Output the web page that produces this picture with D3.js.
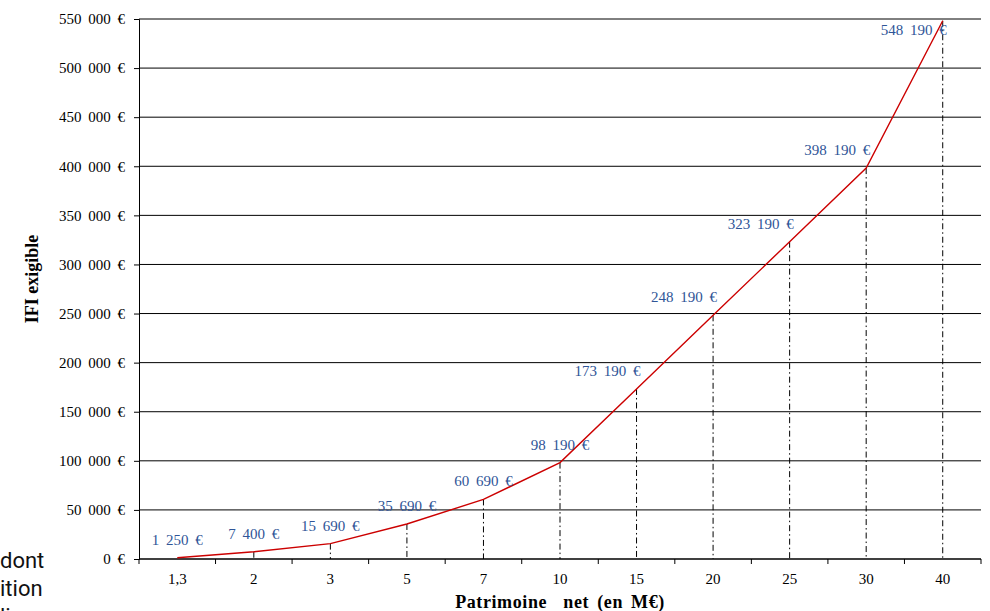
<!DOCTYPE html>
<html>
<head>
<meta charset="utf-8">
<script src="https://cdn.jsdelivr.net/npm/d3@7"></script>
<style>
  body { margin: 0; background: #fff; }
  svg { display: block; }
  .tick text { font-family: "Liberation Serif", "Times New Roman", serif; font-size: 15px; fill: #000; word-spacing: 3px; }
</style>
</head>
<body>
<svg id="chart" width="990" height="611"></svg>
<script>
// patrimoine net (M€) and IFI exigible (€)
var categories = ["1,3", "2", "3", "5", "7", "10", "15", "20", "25", "30", "40"];
var ifiValues = [1250, 7400, 15690, 35690, 60690, 98190, 173190, 248190, 323190, 398190, 548190];
var yTicks = [0, 50000, 100000, 150000, 200000, 250000, 300000, 350000, 400000, 450000, 500000, 550000];

var svg = d3.select("#chart");
var margin = {left: 139, right: 9, top: 19, bottom: 52};
var W = 990, H = 611;
var x0 = margin.left, x1 = W - margin.right, y0 = H - margin.bottom, y1 = margin.top;

var x = d3.scaleBand().domain(categories).range([x0, x1]).padding(0);
var y = d3.scaleLinear().domain([0, 550000]).range([y0, y1]);

var euro = function(v) { return d3.format(",")(v).replace(/,/g, " ") + " €"; };

// horizontal grid
svg.append("g")
  .selectAll("line")
  .data(yTicks.slice(1))
  .enter().append("line")
  .attr("x1", x0).attr("x2", x1)
  .attr("y1", function(d) { return y(d); })
  .attr("y2", function(d) { return y(d); })
  .attr("stroke", "#000")
  .attr("stroke-width", 1);

// y axis
var yAxis = svg.append("g")
  .attr("transform", "translate(" + x0 + ",0)")
  .call(d3.axisLeft(y).tickValues(yTicks).tickSize(5).tickPadding(9).tickFormat(euro));
yAxis.selectAll("path, line").attr("stroke", "#000");

// x axis: ticks at band boundaries
var xAxis = svg.append("g")
  .attr("transform", "translate(0," + y0 + ")");
xAxis.append("line")
  .attr("x1", x0).attr("x2", x1)
  .attr("stroke", "#000").attr("stroke-width", 1.5);
xAxis.selectAll(".bound")
  .data(categories.concat(["end"]))
  .enter().append("line")
  .attr("x1", function(d, i) { return x0 + i * x.bandwidth(); })
  .attr("x2", function(d, i) { return x0 + i * x.bandwidth(); })
  .attr("y1", 0).attr("y2", 5)
  .attr("stroke", "#000");
xAxis.selectAll(".lab")
  .data(categories)
  .enter().append("text")
  .attr("x", function(d) { return x(d) + x.bandwidth() / 2; })
  .attr("y", 25)
  .attr("text-anchor", "middle")
  .style("font-family", "'Liberation Serif', serif")
  .style("font-size", "15px")
  .text(function(d) { return d; });

var pts = categories.map(function(c, i) {
  return {c: c, v: ifiValues[i], px: x(c) + x.bandwidth() / 2, py: y(ifiValues[i])};
});

// drop lines
svg.append("g")
  .selectAll("line")
  .data(pts.slice(1))
  .enter().append("line")
  .attr("x1", function(d) { return d.px; }).attr("x2", function(d) { return d.px; })
  .attr("y1", function(d) { return d.py; }).attr("y2", y0)
  .attr("stroke", "#000")
  .attr("stroke-width", 1)
  .attr("stroke-dasharray", "6,3,1.5,3");

// line
svg.append("path")
  .datum(pts)
  .attr("fill", "none")
  .attr("stroke", "#cc0000")
  .attr("stroke-width", 1.4)
  .attr("d", d3.line().x(function(d) { return d.px; }).y(function(d) { return d.py; }));

// data labels
svg.append("g")
  .selectAll("text")
  .data(pts)
  .enter().append("text")
  .attr("x", function(d) { return d.v > 150000 ? d.px + 4 : d.px; })
  .attr("y", function(d) { return d.py - 18 < y1 ? d.py + 14 : d.py - 13; })
  .attr("text-anchor", function(d) { return d.v > 150000 ? "end" : "middle"; })
  .style("font-family", "'Liberation Serif', serif")
  .style("font-size", "15px")
  .style("fill", "#2f5597")
  .style("word-spacing", "3px")
  .text(function(d) { return euro(d.v); });

// axis titles
svg.append("text")
  .attr("transform", "translate(38," + ((y0 + y1) / 2 - 10) + ") rotate(-90)")
  .attr("text-anchor", "middle")
  .style("font-family", "'Liberation Serif', serif")
  .style("font-size", "18px")
  .style("font-weight", "bold")
  .text("IFI exigible");

svg.append("text")
  .attr("x", (x0 + x1) / 2)
  .attr("y", 608)
  .attr("text-anchor", "middle")
  .style("font-family", "'Liberation Serif', serif")
  .style("font-size", "18px")
  .style("font-weight", "bold")
  .style("letter-spacing", "0.6px")
  .style("word-spacing", "3px")
  .attr("xml:space", "preserve")
  .text("Patrimoine  net (en M€)");

// stray text from underlying page
var stray = ["dont", "ition", "li"];
svg.append("g")
  .selectAll("text")
  .data(stray)
  .enter().append("text")
  .attr("x", 0)
  .attr("y", function(d, i) { return 568 + i * 28; })
  .style("font-family", "Roboto, sans-serif")
  .style("font-size", "22px")
  .style("fill", "#111")
  .text(function(d) { return d; });
</script>
</body>
</html>
